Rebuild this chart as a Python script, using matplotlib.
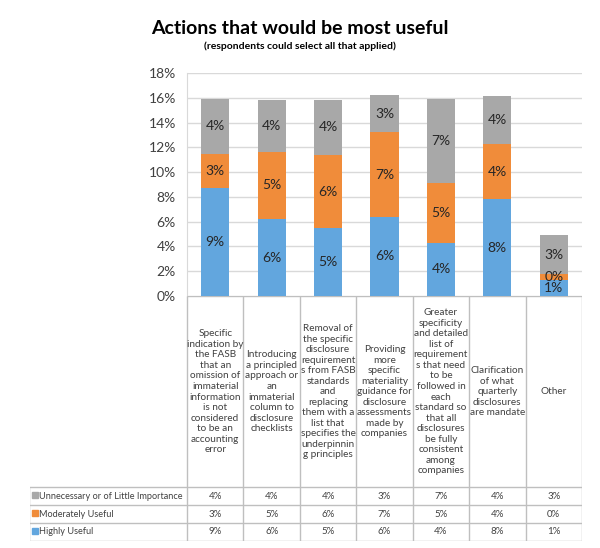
import matplotlib
matplotlib.use("Agg")
import matplotlib.pyplot as plt
import numpy as np

plt.rcParams['font.family'] = ['Lato', 'DejaVu Sans']

categories = [
    "Specific\nindication by\nthe FASB\nthat an\nomission of\nimmaterial\ninformation\nis not\nconsidered\nto be an\naccounting\nerror",
    "Introducing\na principled\napproach or\nan\nimmaterial\ncolumn to\ndisclosure\nchecklists",
    "Removal of\nthe specific\ndisclosure\nrequirement\ns from FASB\nstandards\nand\nreplacing\nthem with a\nlist that\nspecifies the\nunderpinnin\ng principles",
    "Providing\nmore\nspecific\nmateriality\nguidance for\ndisclosure\nassessments\nmade by\ncompanies",
    "Greater\nspecificity\nand detailed\nlist of\nrequirement\ns that need\nto be\nfollowed in\neach\nstandard so\nthat all\ndisclosures\nbe fully\nconsistent\namong\ncompanies",
    "Clarification\nof what\nquarterly\ndisclosures\nare mandate",
    "Other",
]
highly_useful = [8.7, 6.2, 5.45, 6.4, 4.3, 7.8, 1.3]
moderately_useful = [2.8, 5.45, 5.95, 6.8, 4.8, 4.45, 0.45]
unnecessary = [4.4, 4.2, 4.45, 3.0, 6.8, 3.9, 3.15]

series = [
    ("Highly Useful", highly_useful, '#62A6DE'),
    ("Moderately Useful", moderately_useful, '#F08C3A'),
    ("Unnecessary or of Little Importance", unnecessary, '#A8A8A8'),
]

W, H = 600, 548
fig = plt.figure(figsize=(W / 100, H / 100), dpi=100)


def fx(px):
    return px / W


def fy(py):
    return 1 - py / H


# plot area in pixels
L, R, T, B = 187, 582, 73, 296
ax = fig.add_axes([fx(L), fy(B), fx(R - L), fy(T) - fy(B)])

x = np.arange(len(categories))
bottom = np.zeros(len(categories))
for name, vals, col in series:
    vals = np.array(vals)
    ax.bar(x, vals, width=0.5, bottom=bottom, color=col, zorder=3)
    for xi, b, v in zip(x, bottom, vals):
        ax.text(xi, b + v / 2, f"{v:.0f}%", ha='center', va='center',
                fontsize=10, color='#262626', zorder=4)
    bottom += vals

ax.set_xlim(-0.5, len(categories) - 0.5)
ax.set_ylim(0, 18)
ax.set_yticks(range(0, 19, 2))
ax.set_yticklabels([f"{t}%" for t in range(0, 19, 2)], fontsize=10, color='#404040')
ax.set_xticks([])
ax.tick_params(axis='y', length=0, pad=8)
ax.grid(axis='y', color='#D9D9D9', linewidth=1, zorder=0)
for s in ['top', 'right', 'bottom']:
    ax.spines[s].set_visible(False)
ax.spines['left'].set_color('#D9D9D9')

# data table below the bars
TL, TB = 29.5, 541
unit = (R - L) / len(categories)
tab = fig.add_axes([fx(TL), fy(TB), fx(R - TL), fy(B) - fy(TB)])
x0 = -0.5 - (L - TL) / unit
tab.set_xlim(x0, len(categories) - 0.5)
tab.set_ylim(TB, B)
tab.axis('off')

lc = '#BFBFBF'
row_lines = [487.5, 505.5, 523, 541]
tab.hlines(B + 0.5, -0.5, len(categories) - 0.5, color='#BFBFBF', linewidth=1)
tab.hlines(row_lines, x0, len(categories) - 0.5, color=lc, linewidth=1)
tab.vlines(np.arange(len(categories) + 1) - 0.5, B, TB, color=lc, linewidth=1)
tab.vlines(x0, row_lines[0], TB, color=lc, linewidth=1)

for i, c in enumerate(categories):
    tab.text(i, (B + row_lines[0]) / 2, c, ha='center', va='center',
             fontsize=7.2, linespacing=1.22, color='#404040')

rows = list(reversed(series))
for r, (name, vals, col) in enumerate(rows):
    yc = (row_lines[r] + row_lines[r + 1]) / 2
    tab.plot(x0 + 0.09, yc - 1, marker='s', markersize=4, color=col, clip_on=False)
    tab.text(x0 + 0.17, yc, name, ha='left', va='center', fontsize=6.6, color='#404040')
    for i, v in enumerate(vals):
        tab.text(i, yc, f"{v:.0f}%", ha='center', va='center', fontsize=7, color='#404040')

fig.text(0.5, fy(28), "Actions that would be most useful", ha='center', va='center',
         fontsize=14, fontweight='bold', color='black')
fig.text(0.5, fy(46), "(respondents could select all that applied)", ha='center', va='center',
         fontsize=7.5, fontweight='bold', color='black')

fig.savefig("out.png", dpi=100)
